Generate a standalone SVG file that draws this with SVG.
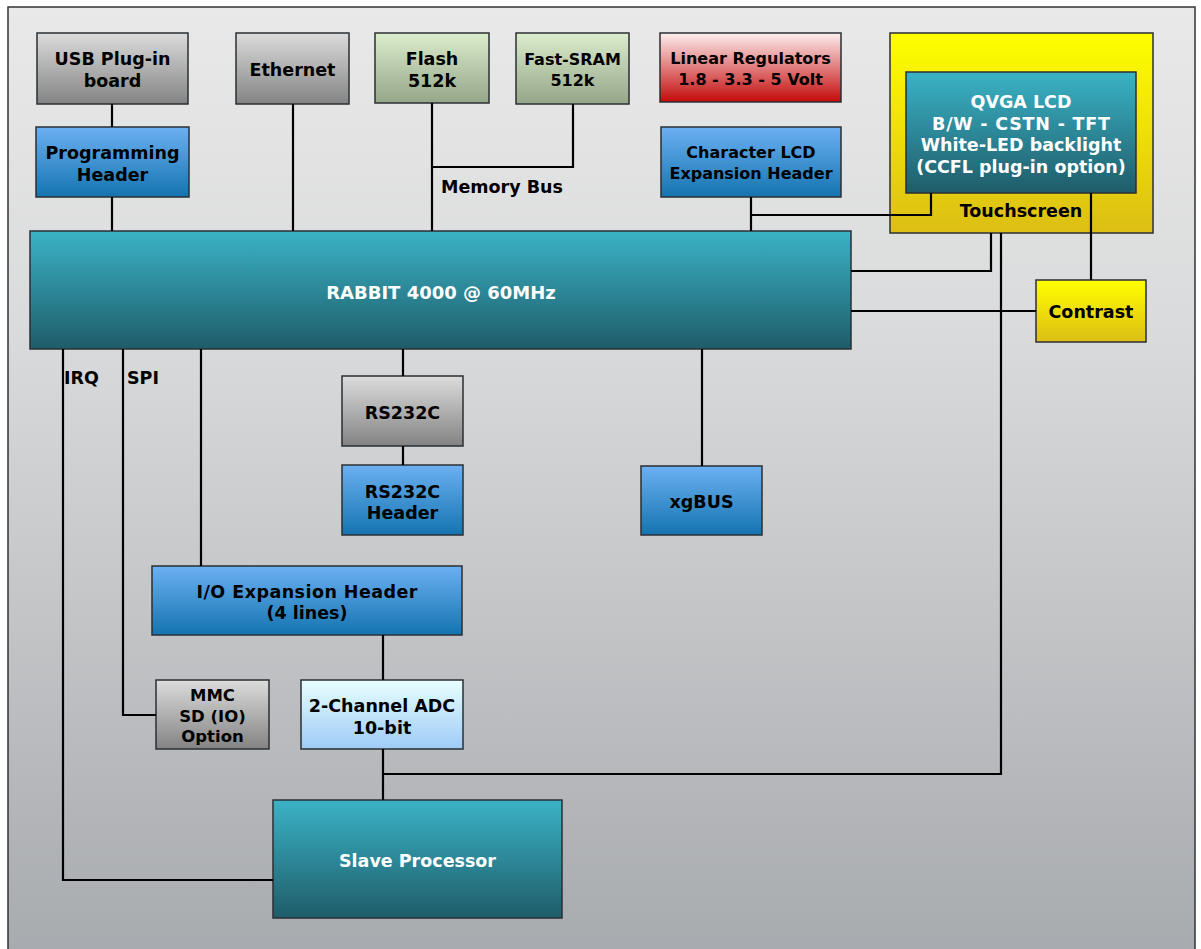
<svg xmlns="http://www.w3.org/2000/svg" width="1201" height="949" viewBox="0 0 1201 949">
<defs>
<linearGradient id="bg" x1="0" y1="0" x2="0" y2="1">
<stop offset="0" stop-color="#e9e9e9"/>
<stop offset="0.35" stop-color="#d9dadb"/>
<stop offset="1" stop-color="#a7aaae"/>
</linearGradient>
<linearGradient id="gGray" x1="0" y1="0" x2="0" y2="1">
<stop offset="0" stop-color="#dcdcdc"/>
<stop offset="1" stop-color="#838383"/>
</linearGradient>
<linearGradient id="gGreen" x1="0" y1="0" x2="0" y2="1">
<stop offset="0" stop-color="#dcedcd"/>
<stop offset="1" stop-color="#95a689"/>
</linearGradient>
<linearGradient id="gRed" x1="0" y1="0" x2="0" y2="1">
<stop offset="0" stop-color="#fdeeee"/>
<stop offset="1" stop-color="#c40a0a"/>
</linearGradient>
<linearGradient id="gBlue" x1="0" y1="0" x2="0" y2="1">
<stop offset="0" stop-color="#6cb0f2"/>
<stop offset="1" stop-color="#1474b0"/>
</linearGradient>
<linearGradient id="gTeal" x1="0" y1="0" x2="0" y2="1">
<stop offset="0" stop-color="#3ab3c6"/>
<stop offset="1" stop-color="#1f5c69"/>
</linearGradient>
<linearGradient id="gYellow" x1="0" y1="0" x2="0" y2="1">
<stop offset="0" stop-color="#ffff00"/>
<stop offset="1" stop-color="#dcbe14"/>
</linearGradient>
<linearGradient id="gLight" x1="0" y1="0" x2="0" y2="1">
<stop offset="0" stop-color="#e8ffff"/>
<stop offset="1" stop-color="#9ecbf7"/>
</linearGradient>
</defs>
<style>
.box{stroke:#2b2f33;stroke-width:1.5}
.t{font-family:"DejaVu Sans","Verdana",sans-serif;font-weight:bold;font-size:17.5px;fill:#000;text-anchor:middle}
.s{font-size:16px}
.w{fill:#fff}
.lab{font-family:"DejaVu Sans","Verdana",sans-serif;font-weight:bold;font-size:17.5px;fill:#000}
.c{fill:none;stroke:#000;stroke-width:2.2}
</style>
<rect x="0" y="0" width="1201" height="949" fill="#fff"/>
<rect x="8" y="7" width="1187" height="950" fill="url(#bg)" stroke="#333" stroke-width="1.5"/>

<g id="usb"><rect class="box" x="37" y="33" width="151" height="71" fill="url(#gGray)"/>
<text class="t" x="112.5" y="64.5">USB Plug-in</text><text class="t" x="112.5" y="86.5">board</text></g>
<g id="ethernet"><rect class="box" x="236" y="33" width="113" height="71" fill="url(#gGray)"/>
<text class="t" x="292.5" y="75.5">Ethernet</text></g>
<g id="flash"><rect class="box" x="375" y="33" width="114" height="70" fill="url(#gGreen)"/>
<text class="t" x="432" y="64.5">Flash</text><text class="t" x="432" y="86.5">512k</text></g>
<g id="sram"><rect class="box" x="516" y="33" width="113" height="71" fill="url(#gGreen)"/>
<text class="t s" x="572.5" y="64.5">Fast-SRAM</text><text class="t s" x="572.5" y="85.5">512k</text></g>
<g id="regulators"><rect class="box" x="660" y="33" width="181" height="69" fill="url(#gRed)"/>
<text class="t s" x="750.5" y="64">Linear Regulators</text><text class="t s" x="750.5" y="85">1.8 - 3.3 - 5 Volt</text></g>
<g id="progheader"><rect class="box" x="36" y="127" width="153" height="70" fill="url(#gBlue)"/>
<text class="t" x="112.5" y="158.5">Programming</text><text class="t" x="112.5" y="180.5">Header</text></g>
<g id="charlcd"><rect class="box" x="661" y="127" width="180" height="70" fill="url(#gBlue)"/>
<text class="t s" x="751" y="158">Character LCD</text><text class="t s" x="751" y="179">Expansion Header</text></g>
<text class="lab" x="441" y="192.5">Memory Bus</text>

<g id="touchscreen"><rect class="box" x="890" y="33" width="263" height="200" fill="url(#gYellow)"/>
<text class="t" x="1021" y="216.5">Touchscreen</text></g>
<g id="qvga"><rect class="box" x="906" y="72" width="230" height="121" fill="url(#gTeal)"/>
<text class="t w" x="1021" y="107.5">QVGA LCD</text><text class="t w" x="1021" y="129.5" textLength="178" lengthAdjust="spacing">B/W - CSTN - TFT</text>
<text class="t w" x="1021" y="150.5">White-LED backlight</text><text class="t w" x="1021" y="172.5">(CCFL plug-in option)</text></g>

<g id="rabbit"><rect class="box" x="30" y="231" width="821" height="118" fill="url(#gTeal)"/>
<text class="t w" x="441" y="298.5" style="font-size:18px">RABBIT 4000 @ 60MHz</text></g>
<g id="contrast"><rect class="box" x="1036" y="280" width="110" height="62" fill="url(#gYellow)"/>
<text class="t" x="1091" y="317.5">Contrast</text></g>

<text class="lab" x="64" y="383.5">IRQ</text>
<text class="lab" x="127" y="383.5">SPI</text>

<g id="rs232c"><rect class="box" x="342" y="376" width="121" height="70" fill="url(#gGray)"/>
<text class="t" x="402.5" y="418.5">RS232C</text></g>
<g id="rs232cheader"><rect class="box" x="342" y="465" width="121" height="70" fill="url(#gBlue)"/>
<text class="t" x="402.5" y="497.5">RS232C</text><text class="t" x="402.5" y="518.5">Header</text></g>
<g id="xgbus"><rect class="box" x="641" y="466" width="121" height="69" fill="url(#gBlue)"/>
<text class="t" x="701.5" y="507.5">xgBUS</text></g>
<g id="ioheader"><rect class="box" x="152" y="566" width="310" height="69" fill="url(#gBlue)"/>
<text class="t" x="307" y="597.5" textLength="221" lengthAdjust="spacing">I/O Expansion Header</text><text class="t" x="307" y="618.5">(4 lines)</text></g>
<g id="mmc"><rect class="box" x="156" y="680" width="113" height="69" fill="url(#gGray)"/>
<text class="t" x="212.5" y="701" style="font-size:16.5px">MMC</text><text class="t" x="212.5" y="721.5" style="font-size:16.5px">SD (IO)</text><text class="t" x="212.5" y="742" style="font-size:16.5px">Option</text></g>
<g id="adc"><rect class="box" x="301" y="680" width="162" height="69" fill="url(#gLight)"/>
<text class="t" x="382" y="711.5">2-Channel ADC</text><text class="t" x="382" y="733.5">10-bit</text></g>
<g id="slave"><rect class="box" x="273" y="800" width="289" height="118" fill="url(#gTeal)"/>
<text class="t w" x="417.5" y="866.5">Slave Processor</text></g>

<g id="connectors">
<path class="c" d="M112 104V127M112 197V231"/>
<path class="c" d="M293 104V231"/>
<path class="c" d="M432 103V231M573 104V167H432"/>
<path class="c" d="M751 197V231M751 215H931V193"/>
<path class="c" d="M851 271H991V233"/>
<path class="c" d="M851 311H1036"/>
<path class="c" d="M1091 193V280"/>
<path class="c" d="M1001 233V774H383"/>
<path class="c" d="M383 749V800"/>
<path class="c" d="M403 349V376M403 446V465"/>
<path class="c" d="M702 349V466"/>
<path class="c" d="M201 349V566"/>
<path class="c" d="M383 635V680"/>
<path class="c" d="M123 349V715H156"/>
<path class="c" d="M63 349V880H273"/>
</g>
</svg>
